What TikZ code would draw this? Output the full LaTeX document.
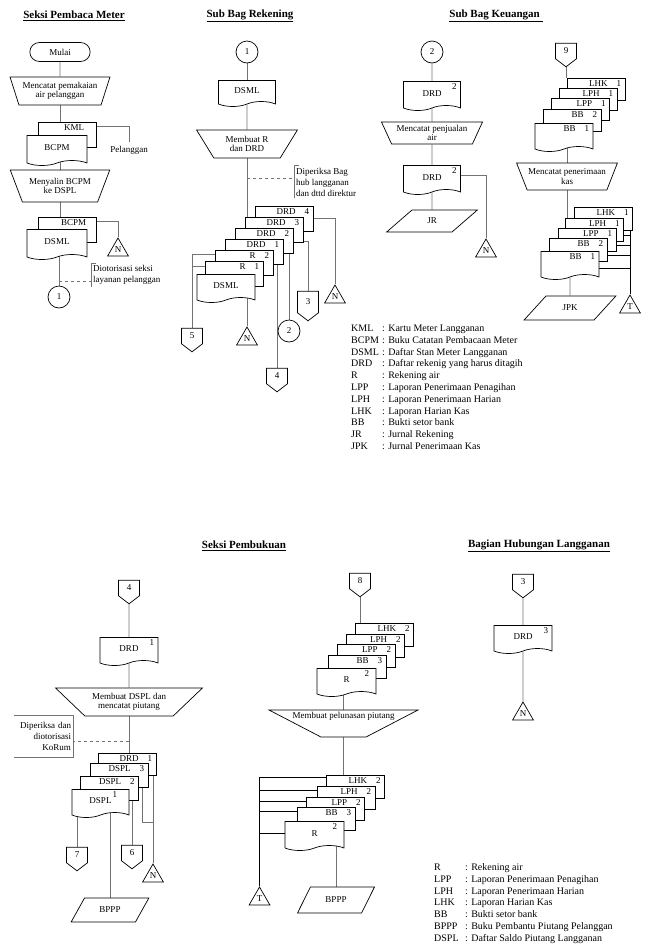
\documentclass[tikz,border=0pt]{standalone}
\usepackage{fontspec}
\setmainfont{Liberation Serif}
\usetikzlibrary{shapes.geometric,shapes.misc,shapes.symbols}

\pgfdeclarelayer{back}
\pgfsetlayers{back,main}

\tikzset{
  every node/.style={font=\fontsize{9}{9.5}\selectfont},
  ln/.style={draw=black!55, line width=0.8pt},
  shp/.style={draw, fill=white, line width=0.7pt},
  term/.style={shp, rounded rectangle, minimum width=67pt, minimum height=19pt},
  manual/.style={shp, trapezium, shape border rotate=180, trapezium stretches=true, align=center, inner sep=1pt},
  doc/.style={shp, tape, tape bend top=none, tape bend bottom=in and out, tape bend height=5pt, minimum width=58pt, minimum height=28pt, inner sep=1pt},
  sheet/.style={shp, rectangle, minimum width=58pt, minimum height=23pt, inner sep=0pt},
  tgl/.style={inner sep=1pt, anchor=north east, xshift=-3pt, yshift=-1.5pt},
  tg/.style={label={[tgl]north east:#1}},
  offpage/.style={shp, signal, signal to=south, signal pointer angle=105, minimum width=21pt, minimum height=18pt, inner sep=1pt},
  conn/.style={shp, circle, minimum size=22pt, inner sep=0pt},
  store/.style={shp, regular polygon, regular polygon sides=3, minimum size=24pt, inner sep=0pt},
  journal/.style={shp, trapezium, trapezium stretches=true, minimum height=24pt},
  ttl/.style={font=\fontsize{11}{12}\selectfont\bfseries},
  note/.style={align=left, inner sep=2pt, font=\fontsize{9}{11}\selectfont},
  lgd/.style={anchor=north west, inner sep=0pt, font=\fontsize{10}{11.8}\selectfont}
}

\begin{document}
\begin{tikzpicture}[x=1pt,y=-1pt]
  \useasboundingbox (0,0) rectangle (649,946);

  % Seksi Pembaca Meter
  \node[ttl] (t1) at (74,16) {\underline{Seksi Pembaca Meter}};
  \node[term] (mulai) at (60,52) {Mulai};
  \node[manual, trapezium angle=67, minimum width=100pt, minimum height=28pt] (catat) at (60,91) {Mencatat pemakaian\\air pelanggan};
  \node[sheet, minimum height=25pt, label={[tgl, xshift=-8pt]north east:KML}] (kml) at (67,134.5) {};
  \node[doc, minimum width=60pt, minimum height=30pt] (bcpm) at (57,148) {BCPM};
  \node (pel) at (129,150) {Pelanggan};
  \node[manual, trapezium angle=60, minimum width=100pt, minimum height=32pt] (salin) at (60,186) {Menyalin BCPM\\ke DSPL};
  \node[sheet, minimum height=25pt, label={[tgl, xshift=-6pt]north east:BCPM}] (bcpm2) at (67,229.5) {};
  \node[doc, minimum width=60pt, minimum height=30pt] (dsml1) at (57,242) {DSML};
  \node[store] (n1) at (118,250) {N};
  \node[conn] (c1) at (59,297) {1};
  \node[note, anchor=west] (aut1) at (91,275) {Diotorisasi seksi\\layanan pelanggan};
  \coordinate (d1) at (59,281);

  % Sub Bag Rekening
  \node[ttl] (t2) at (250,16) {\underline{Sub Bag Rekening}};
  \node[conn] (c2) at (247,52) {1};
  \node[doc, minimum width=57pt, minimum height=26pt] (dsml2) at (247,91) {DSML};
  \node[manual, trapezium angle=57, minimum width=101pt, minimum height=28pt] (buatR) at (247,144) {Membuat R\\dan DRD};
  \node[note, anchor=west] (prk) at (294,182) {Diperiksa Bag\\hub langganan\\dan dttd direktur};
  \coordinate (d2) at (247,178);
  \node[sheet, minimum height=25pt, tg=DRD\quad 4] (drd4) at (284,218.5) {};
  \node[sheet, minimum height=25pt, tg=DRD\quad 3] (drd3) at (274,229.5) {};
  \node[sheet, minimum height=25pt, tg=DRD\quad 2] (drd2) at (264,240.5) {};
  \node[sheet, minimum height=25pt, tg=DRD\quad 1] (drd1) at (254,251.5) {};
  \node[sheet, minimum height=25pt, tg=R\quad 2] (r2) at (244,262.5) {};
  \node[sheet, minimum height=25pt, tg=R\quad 1] (r1) at (234,273.5) {};
  \node[doc] (dsml3) at (226,286) {DSML};
  \node[store] (n2) at (335,297) {N};
  \node[offpage, minimum height=24pt] (o3) at (308,302) {3};
  \node[conn] (c3) at (289,331) {2};
  \node[offpage] (o4) at (277,376) {4};
  \node[offpage] (o5) at (192,336) {5};
  \node[store] (n3) at (247,339) {N};

  % Sub Bag Keuangan
  \node[ttl] (t3) at (496,16) {\underline{Sub Bag Keuangan\ }};
  \node[conn] (c4) at (432,52) {2};
  \node[doc, minimum width=57pt, minimum height=29pt, tg=2] (drd5) at (432,93.5) {DRD};
  \node[manual, trapezium angle=63, minimum width=101pt, minimum height=22pt] (jual) at (432,133) {Mencatat penjualan\\air};
  \node[doc, minimum width=57pt, minimum height=29pt, tg=2] (drd6) at (432,177.5) {DRD};
  \node[store] (n4) at (486,251) {N};
  \node[journal, minimum width=91pt, minimum height=22pt, trapezium left angle=51, trapezium right angle=129] (jr) at (432,221) {JR};

  \node[offpage] (o9) at (566,51) {9};
  \node[sheet, minimum height=22pt, tg=LHK\quad 1] (lhk1) at (596,89) {};
  \node[sheet, minimum height=22pt, tg=LPH\quad 1] (lph1) at (588,99.5) {};
  \node[sheet, minimum height=22pt, tg=LPP\quad 1] (lpp1) at (580.5,109.5) {};
  \node[sheet, minimum height=22pt, tg=BB\quad 2] (bb2) at (572,120.5) {};
  \node[doc, tg=BB\quad 1] (bb1) at (564,135) {};
  \node[manual, trapezium angle=59, minimum width=100pt, minimum height=27pt] (terima) at (567,176.5) {Mencatat penerimaan\\kas};
  \node[sheet, tg=LHK\quad 1] (lhk2) at (603.5,218.5) {};
  \node[sheet, tg=LPH\quad 1] (lph2) at (594.5,229.5) {};
  \node[sheet, tg=LPP\quad 1] (lpp2) at (587,239.5) {};
  \node[sheet, tg=BB\quad 2] (bb4) at (578,249.5) {};
  \node[doc, tg=BB\quad 1] (bb3) at (570,263) {};
  \node[store] (tk) at (630,307) {T};
  \node[journal, minimum width=92pt, trapezium left angle=52, trapezium right angle=128] (jpk) at (570,308) {JPK};

  % keterangan 1
  \node[lgd] (leg1) at (351,323) {\begin{tabular}{@{}p{31pt}@{}l@{}}
    KML & : Kartu Meter Langganan\\
    BCPM & : Buku Catatan Pembacaan Meter\\
    DSML & : Daftar Stan Meter Langganan\\
    DRD & : Daftar rekenig yang harus ditagih\\
    R & : Rekening air\\
    LPP & : Laporan Penerimaan Penagihan\\
    LPH & : Laporan Penerimaan Harian\\
    LHK & : Laporan Harian Kas\\
    BB & : Bukti setor bank\\
    JR & : Jurnal Rekening\\
    JPK & : Jurnal Penerimaan Kas
  \end{tabular}};

  % Seksi Pembukuan
  \node[ttl] (t4) at (244,546) {\underline{Seksi Pembukuan}};
  \node[offpage] (o4b) at (129,588) {4};
  \node[doc, tg=1] (drd7) at (129,649) {DRD};
  \node[manual, trapezium angle=38, minimum width=147pt, minimum height=28pt] (dspl) at (129,702) {Membuat DSPL dan\\mencatat piutang};
  \node[note, align=right, text width=55pt, minimum height=41pt] (kor) at (43.5,736.5) {Diperiksa dan\\diotorisasi\\KoRum};
  \coordinate (d3) at (129,741);
  \node[sheet, minimum height=22pt, tg=DRD\quad 1] (drd8) at (127,764) {};
  \node[sheet, minimum height=24pt, tg=DSPL\quad 3] (dspl3) at (119,775) {};
  \node[sheet, minimum height=24pt, tg=DSPL\quad 2] (dspl2) at (109.5,788) {};
  \node[doc, minimum width=57pt, label={[tgl, xshift=-8pt]north east:1}] (dspl1) at (100.5,801) {DSPL};
  \node[offpage] (o7) at (77,855) {7};
  \node[offpage] (o6) at (132,853) {6};
  \node[store] (n5) at (153,876) {N};
  \coordinate (j5) at (153,822);
  \node[journal, minimum width=78pt, trapezium left angle=60, trapezium right angle=120] (bp1) at (110,910) {BPPP};

  \node[offpage] (o8) at (360,581) {8};
  \node[sheet, tg=LHK\quad 2] (lhk3) at (384.5,634.5) {};
  \node[sheet, tg=LPH\quad 2] (lph3) at (375.5,645.5) {};
  \node[sheet, tg=LPP\quad 2] (lpp3) at (366,656) {};
  \node[sheet, tg=BB\quad 3] (bb5) at (357,667) {};
  \node[doc, minimum width=59pt, label={[tgl, xshift=-3pt]north east:2}] (r3) at (346.5,680) {R};
  \node[manual, trapezium angle=41, minimum width=149pt, minimum height=27pt, label={[anchor=north, inner sep=2pt]north:Membuat pelunasan piutang}] (lunas) at (343.5,723.5) {};
  \node[sheet, tg=LHK\quad 2] (lhk4) at (355.5,786.5) {};
  \node[sheet, tg=LPH\quad 2] (lph4) at (346,797.5) {};
  \node[sheet, tg=LPP\quad 2] (lpp4) at (335.5,809) {};
  \node[sheet, tg=BB\quad 3] (bb6) at (326,819) {};
  \node[doc, minimum width=59pt, minimum height=29pt, label={[tgl, xshift=-3pt]north east:2}] (r4) at (314.5,833.5) {R};
  \node[store] (tb) at (259.5,899) {T};
  \node[journal, minimum width=77pt, minimum height=26pt, trapezium left angle=61, trapezium right angle=119] (bp2) at (336,900) {BPPP};

  % Bagian Hubungan Langganan
  \node[ttl] (t5) at (539,546) {\underline{Bagian Hubungan Langganan}};
  \node[offpage] (o3b) at (523,582) {3};
  \node[doc, tg=3] (drd9) at (523,637) {DRD};
  \node[store] (n6) at (523,714) {N};

  % keterangan 2
  \node[lgd] (leg2) at (434,862) {\begin{tabular}{@{}p{31pt}@{}l@{}}
    R & : Rekening air\\
    LPP & : Laporan Penerimaan Penagihan\\
    LPH & : Laporan Penerimaan Harian\\
    LHK & : Laporan Harian Kas\\
    BB & : Bukti setor bank\\
    BPPP & : Buku Pembantu Piutang Pelanggan\\
    DSPL & : Daftar Saldo Piutang Langganan
  \end{tabular}};

  \begin{pgfonlayer}{back}
    % alur seksi pembaca meter
    \draw[ln] (mulai) -- (catat);
    \draw[ln] (catat.south) -- (catat.south |- kml.north);
    \draw[ln] (kml.15) -| (pel.north);
    \draw[ln] (salin.north |- bcpm.center) -- (salin.north);
    \draw[ln] (salin.south) -- (salin.south |- bcpm2.north);
    \draw[ln] (bcpm2.15) -| (n1.north);
    \draw[ln] (c1.north |- dsml1.center) -- (c1.north);
    \draw[ln, dashed] (d1) -- (d1 -| aut1.west);
    \draw[ln] ([xshift=5pt]aut1.north west) -- (aut1.north west) -- (aut1.south west);
    % alur sub bag rekening
    \draw[ln] (c2) -- (dsml2);
    \draw[ln] (dsml2) -- (buatR);
    \draw[ln] (buatR.south) -- (buatR.south |- drd3.north);
    \draw[ln, dashed] (d2) -- (d2 -| prk.west);
    \draw[ln] ([xshift=5pt]prk.north west) -- (prk.north west) -- (prk.south west);
    \draw[ln] (drd4.east) -| (n2.north);
    \draw[ln] ([yshift=1pt]drd3.south east) -| (o3.north);
    \draw[ln] (drd2.center -| c3.north) -- (c3.north);
    \draw[ln] (drd1.center -| o4.north) -- (o4.north);
    \draw[ln] ([yshift=-5pt]r2.north west) -| (o5.north);
    \draw[ln] ([yshift=-6pt]r1.north west) -| (o5.north);
    \draw[ln] (dsml3.center -| n3.north) -- (n3.north);
    % alur sub bag keuangan
    \draw[ln] (c4) -- (drd5);
    \draw[ln] (drd5) -- (jual);
    \draw[ln] (jual) -- (drd6);
    \draw[ln] (drd6) -- (jr);
    \draw[ln] ([yshift=-10pt]drd6.north east) -| (n4.north);
    \draw[ln] (o9.south) -- (o9.south |- lhk1.north);
    \draw[ln] (terima.north |- bb1.center) -- (terima.north);
    \draw[ln] (terima.south) -- (terima.south |- lph2.north);
    \draw[ln] (bb3) -- (jpk);
    \draw[ln, draw=black] (lhk2.south east -| tk.north) -- (tk.north);
    \draw[ln, draw=black] ([yshift=6pt]lph2.south east) -| (tk.north);
    \draw[ln, draw=black] ([yshift=6pt]lpp2.south east) -| (tk.north);
    \draw[ln, draw=black] ([yshift=6pt]bb4.south east) -| (tk.north);
    \draw[ln, draw=black] ([yshift=-5pt]bb3.east) -| (tk.north);
    % alur seksi pembukuan
    \draw[ln] (o4b) -- (drd7);
    \draw[ln] (drd7) -- (dspl);
    \draw[ln] (dspl.south) -- (dspl.south |- drd8.north);
    \draw[ln, dashed] (d3) -- (d3 -| kor.east);
    \draw[ln] (kor.north west) -- (kor.north east) -- (kor.south east) -- (kor.south west);
    \draw[ln] (dspl1.center -| o7.north) -- (o7.north);
    \draw[ln] (dspl1.center -| bp1.north) -- (bp1.north);
    \draw[ln] (dspl2.center -| o6.north) -- (o6.north);
    \draw[ln] (drd8.center -| n5.north) -- (n5.north);
    \draw[ln] ([xshift=-6pt]dspl3.south east) |- (j5);
    \draw[ln] (o8.south) -- (o8.south |- lhk3.north);
    \draw[ln] (r3.center -| lunas.north) -- (lunas.north);
    \draw[ln] (lunas.south) -- (lunas.south |- lhk4.north);
    \draw[ln, draw=black] ([yshift=-3pt]lhk4.north west) -| (tb.north);
    \draw[ln, draw=black, line width=1.4pt] ([yshift=-5pt]lph4.north west) -| (tb.north);
    \draw[ln, draw=black] ([yshift=-4pt]lpp4.north west) -| (tb.north);
    \draw[ln, draw=black] ([yshift=-4pt]bb6.north west) -| (tb.north);
    \draw[ln, draw=black] (r4.west) -| (tb.north);
    \draw[ln] (r4.center -| bp2.north) -- (bp2.north);
    % alur bagian hubungan langganan
    \draw[ln] (o3b) -- (drd9);
    \draw[ln] (drd9) -- (n6);
  \end{pgfonlayer}
\end{tikzpicture}
\end{document}
